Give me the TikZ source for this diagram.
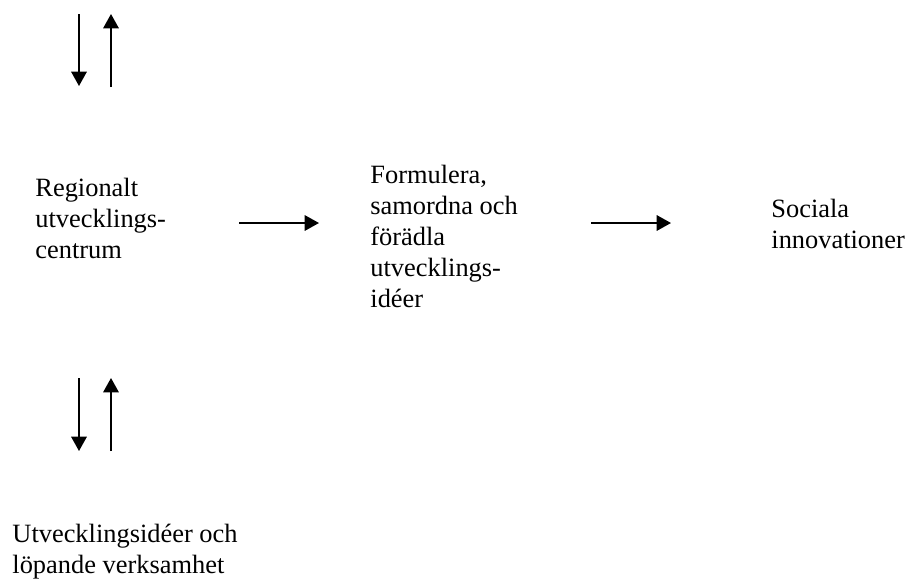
\documentclass[tikz,border=0pt]{standalone}
\usepackage{fontspec}
\setmainfont{Liberation Serif}
\usetikzlibrary{arrows.meta}

\begin{document}
\begin{tikzpicture}[
        x=0.4545pt, y=-0.4545pt,
        txt/.style={anchor=base west, align=left, inner sep=0pt, font=\fontsize{12}{14.05}\selectfont},
        flow/.style={draw, line width=0.85pt, -{Triangle[length=6.5pt, width=7pt]}}
    ]
        \useasboundingbox (0,0) rectangle (907,578);

        % Text blocks (placed at the baseline of their last line)
        \node[txt] (CENTRE) at (35,258) {Regionalt\\utvecklings-\\centrum};
        \node[txt] (REFINE) at (370,307) {Formulera,\\samordna och\\förädla\\utvecklings-\\idéer};
        \node[txt] (SOCIAL) at (771,248) {Sociala\\innovationer};
        \node[txt] (IDEAS) at (12,573) {Utvecklingsidéer och\\löpande verksamhet};

        % Arrow end points
        \coordinate (TOPdownA) at (79,14);
        \coordinate (TOPdownB) at (79,86);
        \coordinate (TOPupA) at (111,87);
        \coordinate (TOPupB) at (111,14);
        \coordinate (BOTdownA) at (79,378);
        \coordinate (BOTdownB) at (79,451);
        \coordinate (BOTupA) at (111,451);
        \coordinate (BOTupB) at (111,378);
        \coordinate (MIDa) at (239,223);
        \coordinate (MIDb) at (319,223);
        \coordinate (RIGHTa) at (591,223);
        \coordinate (RIGHTb) at (671,223);

        % Vertical arrows
        \draw[flow] (TOPdownA) -- (TOPdownB);
        \draw[flow] (TOPupA) -- (TOPupB);
        \draw[flow] (BOTdownA) -- (BOTdownB);
        \draw[flow] (BOTupA) -- (BOTupB);

        % Horizontal arrows
        \draw[flow] (MIDa) -- (MIDb);
        \draw[flow] (RIGHTa) -- (RIGHTb);
    \end{tikzpicture}
\end{document}
